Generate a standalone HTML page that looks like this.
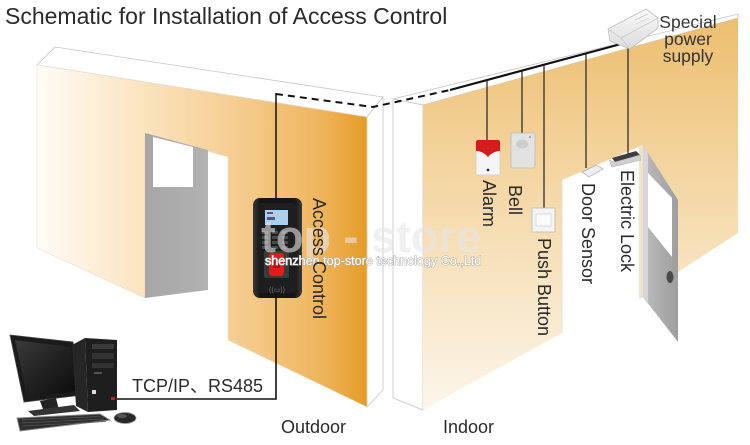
<!DOCTYPE html>
<html>
<head>
<meta charset="utf-8">
<style>
html,body{margin:0;padding:0;background:#fff;}
svg{display:block;}
</style>
</head>
<body>
<svg width="750" height="445" viewBox="0 0 750 445" xmlns="http://www.w3.org/2000/svg" font-family="'Liberation Sans', 'Noto Sans CJK SC', sans-serif">
<defs>
  <linearGradient id="lw" gradientUnits="userSpaceOnUse" x1="37" y1="0" x2="367" y2="0">
    <stop offset="0" stop-color="#fffcf7"/>
    <stop offset="0.3" stop-color="#fbe5c2"/>
    <stop offset="0.58" stop-color="#f6cf96"/>
    <stop offset="0.85" stop-color="#efb660"/>
    <stop offset="1" stop-color="#e59c26"/>
  </linearGradient>
  <linearGradient id="rw" gradientUnits="userSpaceOnUse" x1="0" y1="18" x2="0" y2="410">
    <stop offset="0" stop-color="#ecbe70"/>
    <stop offset="0.35" stop-color="#f3d39c"/>
    <stop offset="0.7" stop-color="#f8e6c6"/>
    <stop offset="1" stop-color="#fcf6ec"/>
  </linearGradient>
  <linearGradient id="door" x1="0" y1="0" x2="1" y2="0">
    <stop offset="0" stop-color="#bcbcbc"/>
    <stop offset="1" stop-color="#9e9e9e"/>
  </linearGradient>
  <linearGradient id="jamb" x1="0" y1="0" x2="1" y2="0">
    <stop offset="0" stop-color="#a6a6a6"/>
    <stop offset="1" stop-color="#b2b2b2"/>
  </linearGradient>
  <linearGradient id="dev" x1="0" y1="0" x2="1" y2="0">
    <stop offset="0" stop-color="#3a3a3a"/>
    <stop offset="0.15" stop-color="#151515"/>
    <stop offset="0.85" stop-color="#151515"/>
    <stop offset="1" stop-color="#3a3a3a"/>
  </linearGradient>
  <linearGradient id="scr" x1="0" y1="0" x2="1" y2="1">
    <stop offset="0" stop-color="#3a3a3a"/>
    <stop offset="1" stop-color="#0a0a0a"/>
  </linearGradient>
  <linearGradient id="ps" x1="0" y1="0" x2="0" y2="1">
    <stop offset="0" stop-color="#fafafa"/>
    <stop offset="1" stop-color="#dcdcdc"/>
  </linearGradient>
</defs>

<!-- Title -->
<text x="5" y="24" font-size="23" fill="#2a2a2a">Schematic for Installation of Access Control</text>

<!-- LEFT (outdoor) wall -->
<polygon points="37,65 55,47 383,97 367,117" fill="#fff" stroke="#c4c4c4" stroke-width="0.8"/>
<polygon points="367,117 383,97 383,390 367,407" fill="#fff" stroke="#c4c4c4" stroke-width="0.8"/>
<polygon points="37,65 367,117 367,407 228,340 228,157 145,133 145,298 37,248" fill="url(#lw)" stroke="#e6dccd" stroke-width="0.6"/>
<polygon points="145,133 208,150 208,290 145,298" fill="url(#jamb)"/>
<polygon points="153,137 193,147 193,187 153,187" fill="#fff"/>

<!-- RIGHT (indoor) wall -->
<polygon points="393,99 738,14 738,18 423,105" fill="#fff" stroke="#c4c4c4" stroke-width="0.8"/>
<polygon points="393,99 423,105 423,410 393,398" fill="#fff" stroke="#c4c4c4" stroke-width="0.8"/>
<polygon points="423,105 738,18 738,233 643,295 562,333 423,410" fill="url(#rw)"/>
<!-- door opening -->
<polygon points="562,180 643,145 643,297 562,333" fill="#fff"/>
<line x1="562" y1="180" x2="562" y2="333" stroke="#e6dccb" stroke-width="0.8"/>
<polygon points="639,147 643,145 643,297 639,299" fill="#efe3cc"/>
<!-- door panel -->
<polygon points="643,145 678,200 678,342 643,297" fill="url(#door)"/>
<polygon points="643,145 648,152 648,302 643,297" fill="#d6d6d6"/>
<polygon points="648,173 672,198 672,257 648,227" fill="#fff"/>
<ellipse cx="670" cy="277" rx="3.5" ry="6" fill="#4a4a4a"/>

<!-- Wires -->
<polyline points="276,94 373,107 450,90" fill="none" stroke="#111" stroke-width="2" stroke-dasharray="7,5"/>
<line x1="450" y1="90" x2="621" y2="44" stroke="#111" stroke-width="2.2"/>
<line x1="276" y1="93" x2="276" y2="199" stroke="#111" stroke-width="1.5"/>
<polyline points="276,297 276,399 115,399" fill="none" stroke="#111" stroke-width="1.6"/>
<line x1="487" y1="80" x2="487" y2="141" stroke="#222" stroke-width="1.2"/>
<line x1="522" y1="71" x2="522" y2="134" stroke="#222" stroke-width="1.2"/>
<line x1="544" y1="65" x2="544" y2="209" stroke="#222" stroke-width="1.2"/>
<line x1="586" y1="53" x2="586" y2="168" stroke="#222" stroke-width="1.2"/>
<line x1="628" y1="46" x2="628" y2="154" stroke="#222" stroke-width="1.2"/>

<!-- Power supply -->
<polygon points="608,29 646,9 658,18 658,28 630,49 610,41" fill="url(#ps)" stroke="#bdbdbd" stroke-width="0.8"/>
<polyline points="608,29 621,38 658,18" fill="none" stroke="#c8c8c8" stroke-width="0.8"/>
<line x1="621" y1="38" x2="630" y2="49" stroke="#c8c8c8" stroke-width="0.8"/>
<line x1="635" y1="20" x2="648" y2="14" stroke="#bbb" stroke-width="0.6"/>
<line x1="636" y1="24" x2="649" y2="18" stroke="#ccc" stroke-width="0.6"/>

<!-- Alarm -->
<rect x="476" y="147" width="24" height="28" rx="2" fill="#f5f5f5" stroke="#cfcfcf" stroke-width="0.8"/>
<path d="M476,142 q0,-2 2,-2 h20 q2,0 2,2 v9 q-7,0 -12,6 q-5,-6 -12,-6 z" fill="#d41c1c"/>
<circle cx="488" cy="170" r="1.4" fill="#333"/>

<!-- Bell -->
<rect x="511" y="133" width="24" height="35" rx="1.5" fill="#e2e2e2" stroke="#bcbcbc" stroke-width="0.8"/>
<ellipse cx="522" cy="144" rx="6" ry="4.5" fill="#cdcdcd"/>
<circle cx="530" cy="137" r="0.9" fill="#888"/>

<!-- Push button -->
<rect x="532" y="208" width="23" height="24" fill="#f4f4f4" stroke="#b8b8b8" stroke-width="0.8"/>
<rect x="536" y="214" width="15" height="12" fill="#fbfbfb" stroke="#cfcfcf" stroke-width="0.7"/>

<!-- Door sensor -->
<polygon points="582,172 596,165 603,169 589,177" fill="#eeeeee" stroke="#a8a8a8" stroke-width="0.7"/>
<!-- Electric lock -->
<polygon points="612,158 636,151 640,155 615,162" fill="#3e3e3e"/>
<polygon points="609,160 615,162 640,155 641,160 612,167" fill="#d0d0d0" stroke="#aaa" stroke-width="0.5"/>

<!-- Access control device -->
<rect x="253" y="198" width="49" height="100" rx="7" fill="url(#dev)"/>
<rect x="258" y="203" width="39" height="90" rx="5" fill="#1e1e1e"/>
<rect x="265" y="210" width="23" height="15" fill="#a9d0ee"/>
<rect x="267" y="212" width="6" height="2" fill="#557"/>
<rect x="267" y="217" width="8" height="3" fill="#557"/>
<g fill="#4a4a4a">
  <rect x="262" y="231" width="6" height="3"/><rect x="272" y="231" width="6" height="3"/><rect x="282" y="231" width="6" height="3"/>
  <rect x="262" y="236" width="6" height="3"/><rect x="272" y="236" width="6" height="3"/><rect x="282" y="236" width="6" height="3"/>
  <rect x="262" y="241" width="6" height="3"/><rect x="272" y="241" width="6" height="3"/><rect x="282" y="241" width="6" height="3"/>
  <rect x="262" y="246" width="6" height="3"/><rect x="272" y="246" width="6" height="3"/><rect x="282" y="246" width="6" height="3"/>
</g>
<rect x="264" y="251" width="25" height="27" rx="2" fill="#3a3a3a"/>
<rect x="269" y="253" width="15" height="23" rx="3" fill="#e21a1a"/>
<rect x="273" y="258" width="7" height="10" fill="#b01010"/>
<text x="277" y="292" font-size="7" fill="#777" text-anchor="middle">((▭))</text>

<!-- Watermark -->
<text x="261" y="252" font-size="45" font-weight="bold" fill="#e6e6e6" fill-opacity="0.6">top - store</text>
<text x="265" y="265" font-size="12.6" fill="#fff" stroke="#b0b0b0" stroke-width="1.1" paint-order="stroke">shenzhen top-store technology Co.,Ltd</text>

<!-- Computer -->
<polygon points="10,335 73,342 82,395 24,402" fill="#1b1b1b" stroke="#444" stroke-width="0.8"/>
<polygon points="15,340 70,347 77,391 27,397" fill="url(#scr)"/>
<polygon points="40,401 56,398 59,410 44,412" fill="#222"/>
<polygon points="28,411 74,405 80,411 34,416" fill="#333"/>
<polygon points="72,345 85,338 88,412 76,406" fill="#262626"/>
<polygon points="85,338 117,340 117,410 88,412" fill="#1e1e1e"/>
<rect x="92" y="344" width="22" height="5" fill="#3a3a3a"/>
<rect x="92" y="353" width="22" height="6" fill="#333"/>
<rect x="92" y="363" width="22" height="5" fill="#333"/>
<rect x="94" y="372" width="8" height="2" fill="#555"/>
<rect x="92" y="390" width="4" height="4" fill="#ddd"/>
<rect x="111" y="397" width="4" height="3" fill="#c02020"/>
<polygon points="17,418 100,414 110,420 20,431" fill="#2e2e2e" stroke="#8a8a8a" stroke-width="1"/>
<g stroke="#555" stroke-width="0.8">
  <line x1="22" y1="420" x2="100" y2="416.5"/>
  <line x1="22" y1="423" x2="104" y2="419"/>
  <line x1="22" y1="426" x2="106" y2="421.5"/>
</g>
<ellipse cx="125" cy="418" rx="11" ry="5.5" fill="#2a2a2a" stroke="#999" stroke-width="0.8"/>
<ellipse cx="122" cy="416" rx="5" ry="2" fill="#555"/>

<!-- Labels -->
<g font-size="18" fill="#2a2a2a">
  <text x="313" y="198" transform="rotate(90 313 198)">Access Control</text>
  <text x="483" y="180" transform="rotate(90 483 180)">Alarm</text>
  <text x="509" y="185" transform="rotate(90 509 185)">Bell</text>
  <text x="538" y="238" transform="rotate(90 538 238)">Push Button</text>
  <text x="582" y="183" transform="rotate(90 582 183)">Door Sensor</text>
  <text x="621" y="170" transform="rotate(90 621 170)">Electric Lock</text>
  <text x="132" y="392">TCP/IP、RS485</text>
  <text x="281" y="433">Outdoor</text>
  <text x="443" y="433">Indoor</text>
</g>
<g font-size="17.5" fill="#333" text-anchor="middle">
  <text x="688" y="28">Special</text>
  <text x="688" y="45">power</text>
  <text x="688" y="62">supply</text>
</g>
</svg>
</body>
</html>
